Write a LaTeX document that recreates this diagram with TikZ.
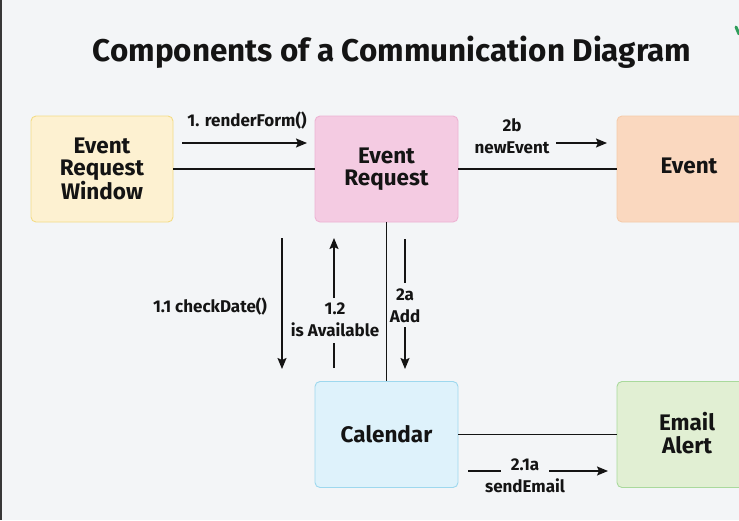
\documentclass[tikz,border=0pt]{standalone}
\usepackage{fontspec}
\setmainfont[Ligatures=NoCommon]{Fira Sans}
\usetikzlibrary{arrows.meta}
\definecolor{bg}{HTML}{F3F5F7}
\definecolor{ink}{HTML}{141414}
\definecolor{ywFill}{HTML}{FDF1D1}\definecolor{ywLine}{HTML}{F3DC86}
\definecolor{pkFill}{HTML}{F4CBE2}\definecolor{pkLine}{HTML}{EDB3D3}
\definecolor{orFill}{HTML}{FAD8BF}\definecolor{orLine}{HTML}{F5CBAA}
\definecolor{blFill}{HTML}{DEF2FB}\definecolor{blLine}{HTML}{9ED8EE}
\definecolor{grFill}{HTML}{E1EFD3}\definecolor{grLine}{HTML}{A9D99C}
\definecolor{logo}{HTML}{2E9E5B}
\tikzset{
  box/.style={draw, line width=0.9pt, rounded corners=5pt, minimum width=143pt, minimum height=106pt,
    inner sep=0pt, align=center, text=ink, font=\fontsize{22.5}{22.5}\selectfont\bfseries},
  link/.style={draw=ink, line width=1.5pt},
  arr/.style={draw=ink, line width=1.5pt, -{Stealth[length=11pt,width=9pt,inset=2pt]}},
  lbl/.style={text=ink, inner sep=0pt, align=center, font=\fontsize{17}{21.5}\selectfont\bfseries},
}
\begin{document}
\begin{tikzpicture}[x=1pt,y=-1pt]
\fill[bg] (0,0) rectangle (739,520);
\useasboundingbox (0,0) rectangle (739,520);
\fill[ink!85] (0,0) rectangle (2,520);
\draw[logo, line width=3pt, line cap=round] (736,27) -- (739,34);

\node[text=ink, font=\fontsize{31.4}{36}\selectfont\bfseries, anchor=base] (title) at (392,61) {Components of a Communication Diagram};

\node[box, fill=ywFill, draw=ywLine, minimum width=142pt] (erw) at (102,169) {Event\\Request\\Window};
\node[box, fill=pkFill, draw=pkLine] (er) at (386.5,169) {Event\\Request};
\node[box, fill=orFill, draw=orLine, minimum width=150pt] (ev) at (692,169) {};
\node[text=ink, font=\fontsize{22.5}{22.5}\selectfont\bfseries] (evt) at (689,166) {Event};
\node[box, fill=blFill, draw=blLine] (cal) at (386.5,434.5) {Calendar};
\node[box, fill=grFill, draw=grLine, minimum width=150pt] (em) at (692,434.5) {};
\node[align=center, text=ink, font=\fontsize{22.5}{22.5}\selectfont\bfseries] (emt) at (687,433) {Email\\Alert};

% structural links
\draw[link] (erw) -- (er);
\draw[link] (er) -- (ev);
\draw[link] (er) -- (cal);
\draw[link] (cal) -- (em);

% message 1
\coordinate (m1s) at (182,143); \coordinate (m1e) at (307,143);
\draw[arr] (m1s) -- (m1e);
\node[lbl, anchor=base] (l1) at (247,126) {1. renderForm()};

% message 2b
\coordinate (m2bs) at (556,143); \coordinate (m2be) at (607,143);
\draw[arr] (m2bs) -- (m2be);
\node[lbl] (l2b) at (512,136) {2b\\newEvent};

% message 1.1
\coordinate (m11s) at (282,238); \coordinate (m11e) at (282,369);
\draw[arr] (m11s) -- (m11e);
\node[lbl, anchor=base] (l11) at (210,312) {1.1 checkDate()};

% message 1.2
\coordinate (m12a) at (334,368); \coordinate (m12b) at (334,343);
\coordinate (m12c) at (334,298); \coordinate (m12d) at (334,238);
\draw[link] (m12a) -- (m12b);
\draw[arr] (m12c) -- (m12d);
\node[lbl] (l12) at (335,320) {1.2\\is Available};

% message 2a
\coordinate (m2aa) at (405,239); \coordinate (m2ab) at (405,283);
\coordinate (m2ac) at (405,327); \coordinate (m2ad) at (405,369);
\draw[link] (m2aa) -- (m2ab);
\draw[arr] (m2ac) -- (m2ad);
\node[lbl] (l2a) at (405,306) {2a\\Add};

% message 2.1a
\coordinate (m21a) at (468,471); \coordinate (m21b) at (501,471);
\coordinate (m21c) at (549,471); \coordinate (m21d) at (608,471);
\draw[link] (m21a) -- (m21b);
\draw[arr] (m21c) -- (m21d);
\node[lbl] (l21) at (525,476) {2.1a\\sendEmail};
\end{tikzpicture}
\end{document}
